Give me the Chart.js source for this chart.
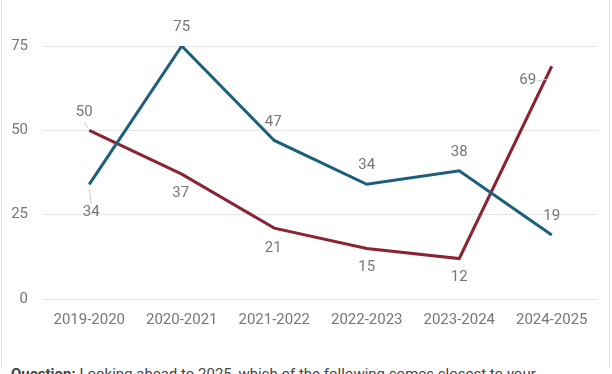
<!DOCTYPE html>
<html>
<head>
<meta charset="utf-8">
<script src="https://cdn.jsdelivr.net/npm/chart.js@4"></script>
<style>
  html, body { margin: 0; padding: 0; background: #fff; }
  body { width: 612px; height: 374px; overflow: hidden; position: relative; font-family: Roboto, sans-serif; }
  #card { position: absolute; left: 1px; top: -2px; width: 607px; height: 370px; border-left: 1px solid #e3e3e3; border-right: 1px solid #e3e3e3; }
  #wrap { position: absolute; left: 0; top: 0; width: 612px; height: 340px; }
  #note { position: absolute; left: 11px; top: 365px; font-size: 15px; color: #444; white-space: nowrap; }
</style>
</head>
<body>
<div id="card"></div>
<div id="wrap"><canvas id="c" width="612" height="340"></canvas></div>
<div id="note"><b>Question:</b> Looking ahead to 2025, which of the following comes closest to your</div>
<script>
const categories = ["2019-2020", "2020-2021", "2021-2022", "2022-2023", "2023-2024", "2024-2025"];
const seriesBlue = [34, 75, 47, 34, 38, 19];
const seriesRed = [50, 37, 21, 15, 12, 69];
const yTicks = [0, 25, 50, 75];

// label placement styles (offsets in px relative to each point) and leader flags
const blueLabelOffsets = [[2, 28, true], [0, -19], [-1, -18], [0, -19], [0, -19], [0, -19]];
const redLabelOffsets = [[-5, -18, true], [-1, 19], [-1, 20], [0, 19], [0, 19], [-24, 14, true]];

const labelPlugin = {
  id: 'labels',
  afterDatasetsDraw(chart) {
    const ctx = chart.ctx;
    ctx.save();
    ctx.font = '15px Roboto, sans-serif';
    ctx.fillStyle = '#767676';
    ctx.textAlign = 'center';
    ctx.textBaseline = 'middle';
    const sets = [[0, seriesBlue, blueLabelOffsets], [1, seriesRed, redLabelOffsets]];
    sets.forEach(([di, vals, offs]) => {
      const meta = chart.getDatasetMeta(di);
      meta.data.forEach((pt, i) => {
        const o = offs[i];
        const lx = pt.x + o[0], ly = pt.y + o[1];
        if (o[2]) {
          ctx.strokeStyle = '#c8c8c8';
          ctx.lineWidth = 1;
          ctx.beginPath();
          if (di === 0 && i === 0) { ctx.moveTo(pt.x, pt.y + 5); ctx.lineTo(pt.x + 2, pt.y + 20); }
          else if (di === 1 && i === 0) { ctx.moveTo(pt.x - 5, pt.y - 8); ctx.lineTo(pt.x - 1, pt.y - 2); }
          else { ctx.moveTo(lx + 9, ly + 1); ctx.lineTo(lx + 19, ly - 1); }
          ctx.stroke();
        }
        ctx.fillText(String(vals[i]), lx, ly);
      });
    });
    ctx.restore();
  }
};

new Chart(document.getElementById('c'), {
  type: 'line',
  data: {
    labels: categories,
    datasets: [
      { data: seriesBlue, borderColor: '#1c5f7c', borderWidth: 3, pointRadius: 0, tension: 0, fill: false },
      { data: seriesRed, borderColor: '#8a2433', borderWidth: 3, pointRadius: 0, tension: 0, fill: false }
    ]
  },
  options: {
    responsive: false,
    animation: false,
    events: [],
    layout: { padding: { top: 46, left: 0, right: 14, bottom: 0 } },
    plugins: { legend: { display: false }, tooltip: { enabled: false } },
    scales: {
      x: {
        offset: true,
        grid: { display: false, drawTicks: false },
        border: { display: false },
        ticks: { color: '#767676', font: { family: 'Roboto', size: 15 }, padding: 12, maxRotation: 0 },
        afterFit(s) { s.height = 41; }
      },
      y: {
        min: 0, max: 75,
        afterBuildTicks(s) { s.ticks = yTicks.map(v => ({ value: v })); },
        grid: { color: '#e6e6e6', drawTicks: false, lineWidth: 1 },
        border: { display: false },
        ticks: { color: '#767676', font: { family: 'Roboto', size: 15 }, padding: 15 },
        afterFit(s) { s.width = 43; }
      }
    }
  },
  plugins: [labelPlugin]
});
</script>
</body>
</html>
